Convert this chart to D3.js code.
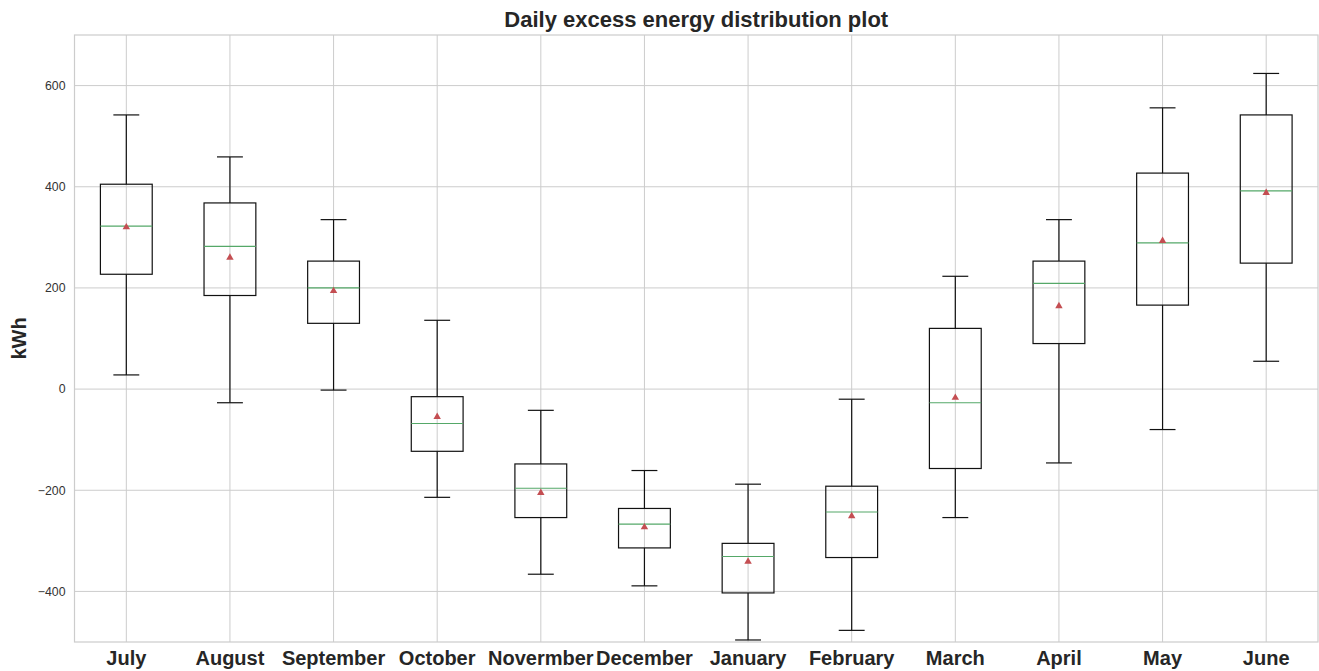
<!DOCTYPE html>
<html>
<head>
<meta charset="utf-8">
<script src="https://cdn.jsdelivr.net/npm/d3@7"></script>
<style>
  html, body { margin: 0; padding: 0; background: #fff; }
  svg { display: block; font-family: "Liberation Sans", Arial, sans-serif; }
</style>
</head>
<body>
<svg id="chart" width="1319" height="671"></svg>
<script>
// Monthly summary of daily excess energy (kWh)
const months = ["July", "August", "September", "October", "Novermber", "December",
                "January", "February", "March", "April", "May", "June"];
const whiskerLow  = [28, -27, -2, -214, -366, -389, -496, -477, -254, -146, -80, 55];
const q1          = [227, 185, 130, -123, -254, -314, -403, -333, -157, 90, 166, 249];
const medians     = [322, 282, 200, -68, -196, -267, -331, -243, -27, 209, 289, 392];
const q3          = [405, 368, 253, -15, -148, -236, -305, -192, 120, 253, 427, 542];
const whiskerHigh = [542, 459, 335, 136, -42, -161, -188, -20, 223, 335, 556, 624];
const means       = [320, 260, 194, -55, -205, -273, -341, -251, -17, 164, 293, 388];
const yTicks = [-400, -200, 0, 200, 400, 600];

const rows = months.map((m, i) => ({
  month: m, lo: whiskerLow[i], q1: q1[i], med: medians[i],
  q3: q3[i], hi: whiskerHigh[i], mean: means[i]
}));

const svg = d3.select("#chart");
const margin = { left: 74.5, right: 1, top: 35, bottom: 29 };
const W = 1319, H = 671;

const x = d3.scaleBand()
  .domain(months)
  .range([margin.left, W - margin.right])
  .padding(0);
const y = d3.scaleLinear()
  .domain([-500, 700])
  .range([H - margin.bottom, margin.top]);

const gridColor = "#cccccc";

// horizontal grid
svg.append("g")
  .selectAll("line")
  .data(yTicks)
  .join("line")
  .attr("x1", margin.left).attr("x2", W - margin.right)
  .attr("y1", d => y(d)).attr("y2", d => y(d))
  .attr("stroke", gridColor).attr("stroke-width", 1);

// vertical grid at each category
svg.append("g")
  .selectAll("line")
  .data(months)
  .join("line")
  .attr("x1", d => x(d) + x.bandwidth() / 2).attr("x2", d => x(d) + x.bandwidth() / 2)
  .attr("y1", margin.top).attr("y2", H - margin.bottom)
  .attr("stroke", gridColor).attr("stroke-width", 1);

// frame
svg.append("rect")
  .attr("x", margin.left).attr("y", margin.top)
  .attr("width", W - margin.right - margin.left)
  .attr("height", H - margin.bottom - margin.top)
  .attr("fill", "none").attr("stroke", gridColor).attr("stroke-width", 1.2);

// y tick labels
svg.append("g")
  .selectAll("text")
  .data(yTicks)
  .join("text")
  .attr("x", margin.left - 9)
  .attr("y", d => y(d))
  .attr("dy", "0.35em")
  .attr("text-anchor", "end")
  .attr("font-size", 12.3)
  .attr("fill", "#333")
  .text(d => d < 0 ? "\u2212" + Math.abs(d) : d);

// x tick labels
svg.append("g")
  .selectAll("text")
  .data(months)
  .join("text")
  .attr("x", d => x(d) + x.bandwidth() / 2)
  .attr("y", 665)
  .attr("text-anchor", "middle")
  .attr("font-size", 20)
  .attr("font-weight", "bold")
  .attr("fill", "#262626")
  .text(d => d);

// boxes
const boxW = x.bandwidth() * 0.5;
const capW = x.bandwidth() * 0.25;
const g = svg.append("g")
  .selectAll("g")
  .data(rows)
  .join("g")
  .attr("transform", d => `translate(${x(d.month) + x.bandwidth() / 2},0)`);

const stroke = "#111";
const sw = 1.2;

// whiskers
g.append("line")
  .attr("x1", 0).attr("x2", 0)
  .attr("y1", d => y(d.q3)).attr("y2", d => y(d.hi))
  .attr("stroke", stroke).attr("stroke-width", sw);
g.append("line")
  .attr("x1", 0).attr("x2", 0)
  .attr("y1", d => y(d.q1)).attr("y2", d => y(d.lo))
  .attr("stroke", stroke).attr("stroke-width", sw);
// caps
g.append("line")
  .attr("x1", -capW / 2).attr("x2", capW / 2)
  .attr("y1", d => y(d.hi)).attr("y2", d => y(d.hi))
  .attr("stroke", stroke).attr("stroke-width", sw);
g.append("line")
  .attr("x1", -capW / 2).attr("x2", capW / 2)
  .attr("y1", d => y(d.lo)).attr("y2", d => y(d.lo))
  .attr("stroke", stroke).attr("stroke-width", sw);
// box
g.append("rect")
  .attr("x", -boxW / 2).attr("width", boxW)
  .attr("y", d => y(d.q3)).attr("height", d => y(d.q1) - y(d.q3))
  .attr("fill", "none").attr("stroke", stroke).attr("stroke-width", sw);
// median
g.append("line")
  .attr("x1", -boxW / 2).attr("x2", boxW / 2)
  .attr("y1", d => y(d.med)).attr("y2", d => y(d.med))
  .attr("stroke", "#55a868").attr("stroke-width", 1.2);
// mean marker
g.append("path")
  .attr("d", d3.symbol(d3.symbolTriangle, 24))
  .attr("transform", d => `translate(0,${y(d.mean)})`)
  .attr("fill", "#c44e52");

// title
svg.append("text")
  .attr("x", (margin.left + W - margin.right) / 2)
  .attr("y", 27)
  .attr("text-anchor", "middle")
  .attr("font-size", 22)
  .attr("font-weight", "bold")
  .attr("fill", "#262626")
  .text("Daily excess energy distribution plot");

// y axis label
svg.append("text")
  .attr("transform", `translate(26,${(margin.top + H - margin.bottom) / 2}) rotate(-90)`)
  .attr("text-anchor", "middle")
  .attr("font-size", 20)
  .attr("font-weight", "bold")
  .attr("fill", "#262626")
  .text("kWh");
</script>
</body>
</html>
